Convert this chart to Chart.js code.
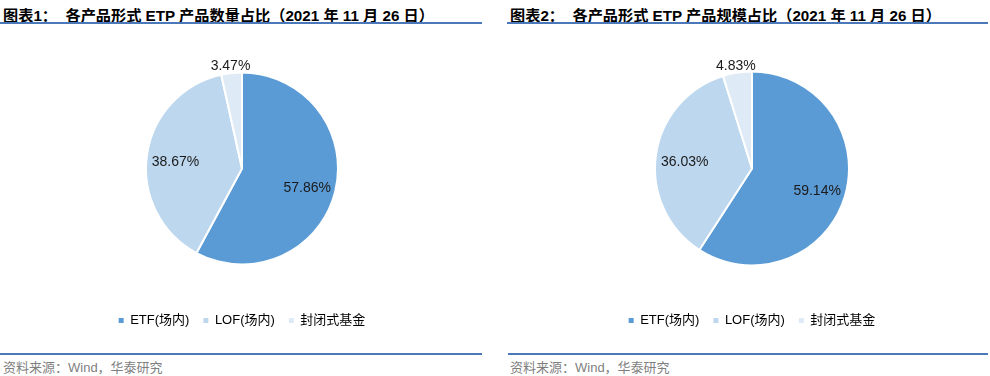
<!DOCTYPE html>
<html>
<head>
<meta charset="utf-8">
<script src="https://cdn.jsdelivr.net/npm/chart.js@4.4.1/dist/chart.umd.min.js"></script>
<style>
    body { margin: 0; background: #fff; width: 990px; height: 376px; position: relative; overflow: hidden;
           font-family: "Liberation Sans", Arial, "Noto Sans CJK SC", sans-serif; }
    .title { position: absolute; top: 3px; font-weight: bold; font-size: 15.2px; color: #000; white-space: pre; }
    .rule { position: absolute; height: 1.5px; background: #4a78b8; }
    .source { position: absolute; top: 357px; font-size: 13px; color: #7f7f7f; }
</style>
</head>
<body>
<div class="title" id="title1" style="left:3px"></div>
<div class="rule" style="left:0; top:22px; width:482px"></div>
<div class="title" id="title2" style="left:510px"></div>
<div class="rule" style="left:507px; top:22px; width:481px"></div>

<div style="position:absolute; left:0; top:30px; width:490px; height:316px"><canvas id="pieCount" width="490" height="316"></canvas></div>
<div style="position:absolute; left:500px; top:30px; width:490px; height:316px"><canvas id="pieScale" width="490" height="316"></canvas></div>

<div class="rule" style="left:0; top:353px; width:482px"></div>
<div class="rule" style="left:508px; top:353px; width:480px"></div>
<div class="source" style="left:3px">资料来源：Wind，华泰研究</div>
<div class="source" style="left:510px">资料来源：Wind，华泰研究</div>

<script>
// chart titles
const titles = [
    '图表1：  各产品形式 ETP 产品数量占比（2021 年 11 月 26 日）',
    '图表2：  各产品形式 ETP 产品规模占比（2021 年 11 月 26 日）'
];

// categories and shares (%)
const categories = ['ETF(场内)', 'LOF(场内)', '封闭式基金'];
const countShares = [57.86, 38.67, 3.47];
const scaleShares = [59.14, 36.03, 4.83];

const sliceColors = ['#5b9bd5', '#bdd7ee', '#deebf7'];

document.getElementById('title1').textContent = titles[0];
document.getElementById('title2').textContent = titles[1];

/**
 * Draw percentage labels: inside for large slices, outside for small ones
 */
const pieLabels = {
    id: 'pieLabels',
    afterDatasetsDraw(chart) {
        const ctx = chart.ctx;
        const meta = chart.getDatasetMeta(0);
        const values = chart.data.datasets[0].data;
        ctx.save();
        ctx.font = '14px "Liberation Sans", Arial, sans-serif';
        ctx.fillStyle = '#1a1a1a';
        ctx.textAlign = 'center';
        ctx.textBaseline = 'middle';
        meta.data.forEach((arc, i) => {
            const p = arc.getProps(['x', 'y', 'startAngle', 'endAngle', 'outerRadius'], true);
            const mid = (p.startAngle + p.endAngle) / 2;
            const dist = values[i] < 10 ? p.outerRadius * 1.1 : p.outerRadius * 0.7;
            ctx.fillText(values[i].toFixed(2) + '%', p.x + Math.cos(mid) * dist, p.y + Math.sin(mid) * dist + 3);
        });
        ctx.restore();
    }
};

function makePie(id, values, radius, padding) {
    const ctx = document.getElementById(id);
    return new Chart(ctx, {
        type: 'pie',
        data: {
            labels: categories,
            datasets: [{
                data: values,
                backgroundColor: sliceColors,
                borderColor: '#ffffff',
                borderWidth: 2
            }]
        },
        options: {
            responsive: false,
            animation: false,
            radius: radius,
            layout: { padding: padding },
            plugins: {
                legend: {
                    display: true,
                    position: 'bottom',
                    labels: {
                        boxWidth: 5,
                        boxHeight: 5,
                        padding: 14,
                        color: '#000',
                        font: { size: 13, family: '"Liberation Sans", Arial, "Noto Sans CJK SC", sans-serif' },
                        generateLabels: function(chart) {
                            const items = Chart.overrides.pie.plugins.legend.labels.generateLabels(chart);
                            items.forEach(it => { it.lineWidth = 0; });
                            return items;
                        }
                    }
                },
                tooltip: { enabled: false }
            }
        },
        plugins: [pieLabels]
    });
}

makePie('pieCount', countShares, 96, { top: 7, bottom: 9, left: 0, right: 6 });
makePie('pieScale', scaleShares, 97, { top: 7, bottom: 9, left: 14, right: 0 });
</script>
</body>
</html>
